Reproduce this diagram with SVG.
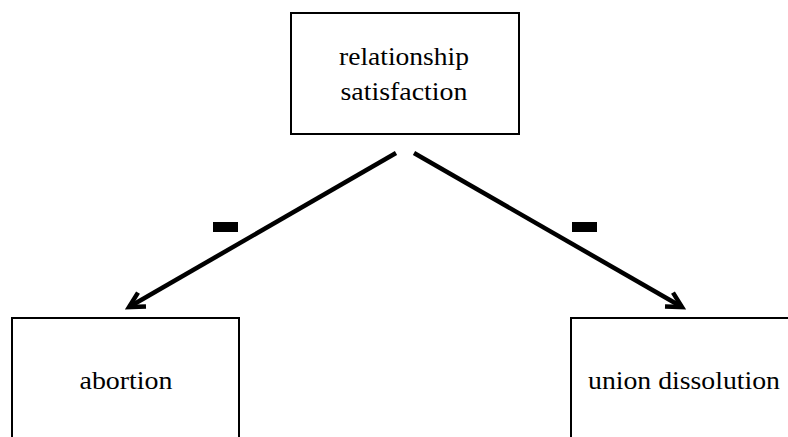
<svg xmlns="http://www.w3.org/2000/svg" width="788" height="437" viewBox="0 0 788 437">
<style>
.box{fill:#fff;stroke:#000;stroke-width:2}
.lbl{font-family:'Liberation Serif','Times New Roman',Times,serif;font-size:26px;fill:#000;text-anchor:middle}
.edge{stroke:#000;stroke-width:4.5;fill:none}
</style>
<defs>
<marker id="ah" markerUnits="userSpaceOnUse" markerWidth="30" markerHeight="30" viewBox="-20 -15 30 30" refX="0" refY="0" orient="auto">
<path d="M-15,-8 L0,0 L-15,8" fill="none" stroke="#000" stroke-width="4.5" stroke-linejoin="miter"/>
</marker>
</defs>
<rect width="788" height="437" fill="#fff"/>
<g id="connectors">
<line class="edge" x1="396" y1="153" x2="129" y2="307" marker-end="url(#ah)"/>
<line class="edge" x1="414" y1="153" x2="682" y2="307" marker-end="url(#ah)"/>
<rect x="213" y="222" width="25" height="10" fill="#000"/>
<rect x="572" y="222" width="25" height="10" fill="#000"/>
</g>
<g id="relationship-satisfaction">
<rect class="box" x="291" y="13" width="228" height="121"/>
<text class="lbl" x="404" y="65" textLength="130" lengthAdjust="spacingAndGlyphs">relationship</text>
<text class="lbl" x="404" y="100" textLength="127" lengthAdjust="spacingAndGlyphs">satisfaction</text>
</g>
<g id="abortion">
<rect class="box" x="12" y="318" width="227" height="140"/>
<text class="lbl" x="126" y="389" textLength="93" lengthAdjust="spacingAndGlyphs">abortion</text>
</g>
<g id="union-dissolution">
<rect class="box" x="571" y="318" width="240" height="140"/>
<text class="lbl" x="684" y="389" textLength="192" lengthAdjust="spacingAndGlyphs">union dissolution</text>
</g>
</svg>
